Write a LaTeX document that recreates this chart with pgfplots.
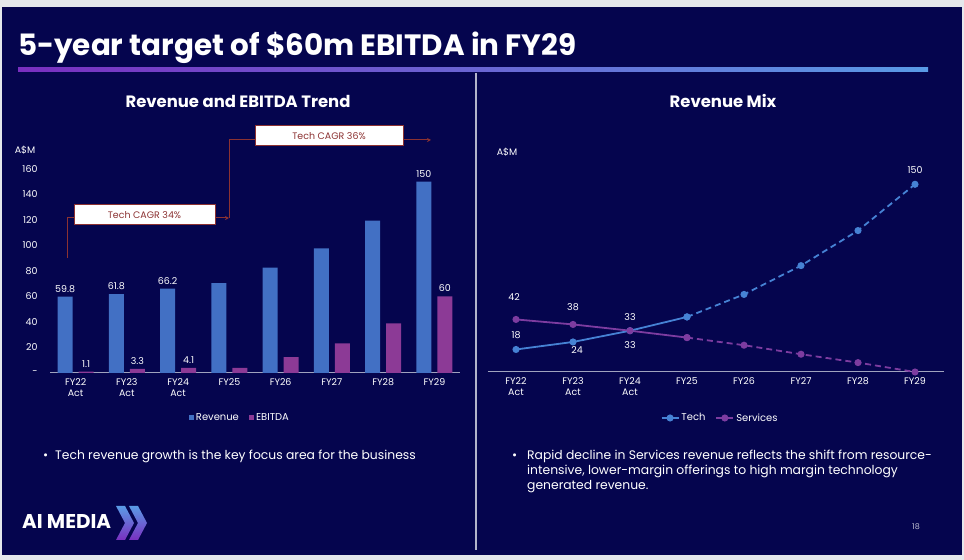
\documentclass[border=0pt]{standalone}
\usepackage{fontspec}
\setmainfont{Poppins}
\usepackage{pgfplots}
\usepackage{pgfplotstable}
\pgfplotsset{compat=1.18}
\usetikzlibrary{arrows.meta}

\definecolor{bg}{RGB}{5,5,78}
\definecolor{slidegray}{RGB}{229,232,235}
\definecolor{revblue}{RGB}{66,112,196}
\definecolor{ebpurple}{RGB}{140,58,150}
\definecolor{techblue}{RGB}{70,130,212}
\definecolor{servpurple}{RGB}{125,60,160}
\definecolor{annred}{RGB}{140,50,50}
\definecolor{axisgray}{RGB}{160,163,190}
\definecolor{gradpurple}{RGB}{122,47,192}
\definecolor{gradblue}{RGB}{90,155,230}

\pgfplotstableread{
x rev revlab ebit ebitlab
0 59.8 59.8 1.1 1.1
1 61.8 61.8 3.3 3.3
2 66.2 66.2 4.1 4.1
3 70.5 {} 4.0 {}
4 82.6 {} 12.4 {}
5 97.8 {} 23.3 {}
6 119.5 {} 39.0 {}
7 150 150 60 60
}\bardata

\pgfplotsset{
  sqlegend/.style={legend image code/.code={\fill[##1] (0bp,-2.6bp) rectangle (5.2bp,2.6bp);}},
  slide axis/.style={scale only axis, xmin=-0.5, xmax=7.5, xtick={0,...,7},
     xticklabels={{FY22\\Act},{FY23\\Act},{FY24\\Act},FY25,FY26,FY27,FY28,FY29},
     xticklabel style={align=center, font=\fontsize{9.5}{11}\selectfont, text=white, yshift=-2bp},
     axis x line=bottom, x axis line style={-, draw=axisgray, line width=1bp},
     tick style={draw=none}, major tick length=0pt,
     /pgf/number format/assume math mode=true,
     clip=false,
     legend style={draw=none, fill=none, text=white, font=\fontsize{10}{12}\selectfont,
        legend columns=2, /tikz/every even column/.append style={column sep=8bp}},
  }
}

\begin{document}
\begin{tikzpicture}[x=1bp,y=1bp]
\path[use as bounding box] (0,0) rectangle (964,560);
\fill[slidegray] (0,0) rectangle (964,560);
\fill[bg] (2,5) rectangle (962,553);
\node[anchor=base west, text=white, font=\fontsize{29.5}{33}\selectfont\bfseries, inner sep=0] at (18,504) {5-year target of \$60m EBITDA in FY29};
\shade[left color=gradpurple, right color=gradblue] (18,488) rectangle (928,492);
\draw[axisgray!80!white, line width=1.2bp] (476,487) -- (476,10);
\node[text=white, font=\fontsize{16.5}{19}\selectfont\bfseries] at (238,459) {Revenue and EBITDA Trend};
\node[text=white, font=\fontsize{16.5}{19}\selectfont\bfseries] at (723,459) {Revenue Mix};

% ---------- left chart ----------
\begin{axis}[slide axis, at={(50bp,187bp)}, anchor=south west, width=410bp, height=204bp,
  ymin=0, ymax=160, ytick={0,20,...,160}, yticklabels={-,20,40,60,80,100,120,140,160},
  axis y line=left, y axis line style={draw=none},
  yticklabel style={font=\fontsize{9.5}{11}\selectfont, text=white, anchor=east, xshift=-9bp},
  ybar, bar width=15bp,
  nodes near coords, point meta=explicit symbolic,
  every node near coord/.append style={font=\fontsize{9.5}{11}\selectfont, text=white, yshift=1bp},
  legend style={at={(0.463,-0.22)}, anchor=center},
]
\addplot[fill=revblue, draw=none, bar shift=-10.5bp, sqlegend] table[x=x, y=rev, meta=revlab] {\bardata};
\addplot[fill=ebpurple, draw=none, bar shift=10.5bp, sqlegend] table[x=x, y=ebit, meta=ebitlab] {\bardata};
\legend{Revenue, EBITDA}
\end{axis}
\node[text=white, font=\fontsize{9.5}{11}\selectfont] at (25,410) {A\$M};

% annotations
\draw[annred, line width=1bp] (67,302) -- (67,342) -- (74,342);
\draw[annred, line width=1bp, -{Stealth[length=4bp,width=4bp]}] (215,342) -- (229,342);
\draw[annred, line width=1bp] (229,342) -- (229,420) -- (255,420);
\draw[annred, line width=1bp, -{Stealth[length=4bp,width=4bp]}] (403,420) -- (431,420);
\draw[annred, fill=white, line width=1bp] (74,335) rectangle (215,355);
\node[text=annred, font=\fontsize{9.5}{11}\selectfont] at (144.5,345) {Tech CAGR 34\%};
\draw[annred, fill=white, line width=1bp] (255,414) rectangle (403,434);
\node[text=annred, font=\fontsize{9.5}{11}\selectfont] at (329,424) {Tech CAGR 36\%};

% ---------- right chart ----------
\begin{axis}[slide axis, at={(487.5bp,188bp)}, anchor=south west, width=456bp, height=187.7bp,
  ymin=0, ymax=150, ytick=\empty, axis y line=none,
  legend style={at={(0.51,-0.245)}, anchor=center},
]
\addplot[techblue, line width=1.8bp, mark=*, mark size=2.6bp] coordinates {(0,18) (1,24) (2,33) (3,44)};
\addplot[servpurple, line width=1.8bp, mark=*, mark size=2.6bp] coordinates {(0,42) (1,38) (2,33) (3,27.5)};
\addplot[techblue, line width=1.8bp, dash pattern=on 6bp off 4bp, mark=*, mark size=2.6bp, mark options={solid}, forget plot] coordinates {(3,44) (4,62) (5,85) (6,113) (7,150)};
\addplot[servpurple, line width=1.8bp, dash pattern=on 6bp off 4bp, mark=*, mark size=2.6bp, mark options={solid}, forget plot] coordinates {(3,27.5) (4,21.4) (5,14.2) (6,7.5) (7,0)};
\legend{Tech, Services}
\begin{scope}[every node/.style={text=white, font=\fontsize{9.5}{11}\selectfont}]
\node[yshift=14bp] at (axis cs:0,18) {18};
\node[xshift=4bp, yshift=-8bp] at (axis cs:1,24) {24};
\node[yshift=-14bp] at (axis cs:2,33) {33};
\node[yshift=14bp] at (axis cs:7,150) {150};
\node[xshift=-2bp, yshift=22bp] at (axis cs:0,42) {42};
\node[yshift=17bp] at (axis cs:1,38) {38};
\node[yshift=14bp] at (axis cs:2,33) {33};
\end{scope}
\end{axis}
\node[text=white, font=\fontsize{9.5}{11}\selectfont] at (507,408) {A\$M};

% ---------- bullets ----------
\node[anchor=base west, text=white, font=\fontsize{12.4}{14}\selectfont, inner sep=0] at (43,100) {\textbullet};
\node[anchor=base west, text=white, font=\fontsize{12.4}{14}\selectfont, inner sep=0] at (55,100) {Tech revenue growth is the key focus area for the business};
\node[anchor=base west, text=white, font=\fontsize{12.4}{14}\selectfont, inner sep=0] at (512,100) {\textbullet};
\node[anchor=base west, text=white, font=\fontsize{12.4}{14}\selectfont, inner sep=0] at (527,100) {Rapid decline in Services revenue reflects the shift from resource-};
\node[anchor=base west, text=white, font=\fontsize{12.4}{14}\selectfont, inner sep=0] at (527,85) {intensive, lower-margin offerings to high margin technology};
\node[anchor=base west, text=white, font=\fontsize{12.4}{14}\selectfont, inner sep=0] at (527,70) {generated revenue.};

% ---------- logo & page ----------
\node[anchor=west, text=white, font=\fontsize{20}{24}\selectfont\bfseries, inner sep=0] at (22,38) {AI MEDIA};
\shade[top color=gradblue, bottom color=gradpurple] (116,54) -- (125,54) -- (134,37) -- (125,20) -- (116,20) -- (125,37) -- cycle;
\shade[top color=gradblue, bottom color=gradpurple] (129,54) -- (138,54) -- (147,37) -- (138,20) -- (129,20) -- (138,37) -- cycle;
\node[text=white!75!bg, font=\fontsize{8}{10}\selectfont] at (916,33) {18};
\end{tikzpicture}
\end{document}
